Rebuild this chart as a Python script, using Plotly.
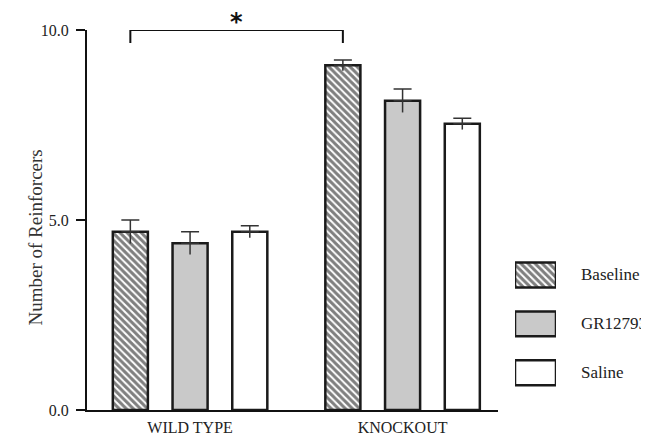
import plotly.graph_objects as go

groups = ["WILD TYPE", "KNOCKOUT"]
series = ["Baseline", "GR127935", "Saline"]
means = {
    "Baseline": [4.69, 9.07],
    "GR127935": [4.39, 8.14],
    "Saline": [4.69, 7.53],
}
errors = {
    "Baseline": [0.31, 0.14],
    "GR127935": [0.30, 0.31],
    "Saline": [0.16, 0.15],
}
y_ticks = [0, 5, 10]

# the page body adds an 8px offset; lay out in window pixels and convert
OFF = 8
W, H = 649 - OFF, 438 - OFF


def px(x):
    return (x - OFF) / W


def py(y):
    return (H - (y - OFF)) / H


SERIF = "Liberation Serif, Times New Roman, serif"
EDGE = "#1a1a1a"
styles = {
    "Baseline": dict(color="white", pattern=dict(shape="\\", fgcolor="#000000", bgcolor="white", size=5, solidity=0.6)),
    "GR127935": dict(color="#c9c9c9"),
    "Saline": dict(color="white"),
}
spacing = 0.281
bar_w = 0.165
group_pos = list(range(len(groups)))

fig = go.Figure()
for i, s in enumerate(series):
    xs = [g + (i - 1) * spacing for g in group_pos]
    fig.add_trace(go.Bar(
        x=xs, y=means[s], width=bar_w, name=s, showlegend=False,
        marker=dict(line=dict(color=EDGE, width=2.5), **styles[s]),
        error_y=dict(type="data", array=errors[s], arrayminus=[0] * len(errors[s]),
                     symmetric=False, color="#333333", thickness=1.5, width=9),
        xaxis="x", yaxis="y",
    ))
# downward stems of the error bars (no cap)
for i, s in enumerate(series):
    xs = [g + (i - 1) * spacing for g in group_pos]
    fig.add_trace(go.Bar(
        x=xs, y=means[s], width=bar_w, showlegend=False, hoverinfo="skip",
        marker=dict(color="rgba(0,0,0,0)", line=dict(width=0)),
        error_y=dict(type="data", array=[0] * len(errors[s]), arrayminus=errors[s],
                     symmetric=False, color="#333333", thickness=1.5, width=0),
        xaxis="x", yaxis="y",
    ))

# significance bracket between baseline bars
bx = [g - spacing for g in group_pos]
top = y_ticks[-1]
fig.add_trace(go.Scatter(
    x=[bx[0], bx[0], bx[1], bx[1]], y=[top - 0.34, top, top, top - 0.34],
    mode="lines", line=dict(color="#111111", width=2), showlegend=False,
    cliponaxis=False, hoverinfo="skip", xaxis="x", yaxis="y",
))
fig.add_annotation(x=(bx[0] + bx[1]) / 2, y=top, xref="x", yref="y", text="<b>*</b>",
                   showarrow=False, yanchor="middle", yshift=8, height=22,
                   font=dict(family="DejaVu Sans, Arial, sans-serif", size=24, color="#111111"))

# legend swatches as a small subplot
for s in series:
    fig.add_trace(go.Bar(
        y=[s], x=[1], orientation="h", width=0.51, showlegend=False, cliponaxis=False,
        marker=dict(line=dict(color=EDGE, width=2.5), **styles[s]),
        xaxis="x2", yaxis="y2", hoverinfo="skip",
    ))
for k, s in enumerate(series):
    fig.add_annotation(x=px(579), y=k, xref="paper", yref="y2", text=s, showarrow=False,
                       xanchor="left", yanchor="middle",
                       font=dict(family=SERIF, size=17, color="#222222"))

# y-axis title
fig.add_annotation(x=px(22), y=py(238), xref="paper", yref="paper",
                   text="Number of Reinforcers", textangle=-90, showarrow=False,
                   font=dict(family=SERIF, size=19, color="#333333"))

fig.update_layout(
    width=W, height=H, margin=dict(l=0, r=0, t=0, b=0, autoexpand=False),
    paper_bgcolor="white", plot_bgcolor="white", barmode="overlay",
    font=dict(family=SERIF, color="#222222"),
    xaxis=dict(domain=[px(87), px(498)], range=[-0.485, 1.449], showgrid=False, zeroline=False,
               showline=True, linecolor="#111111", linewidth=2, ticks="", automargin=False,
               tickvals=group_pos, ticktext=groups, tickfont=dict(size=16, family=SERIF),
               ticklabelstandoff=2),
    yaxis=dict(domain=[py(410), py(30)], range=[0, 10], showgrid=False, zeroline=False,
               showline=True, linecolor="#111111", linewidth=2, ticks="outside", automargin=False,
               ticklen=9, tickwidth=1.5, tickcolor="#111111",
               tickvals=y_ticks, tickformat=".1f", tickfont=dict(size=16, family=SERIF),
               ticklabelstandoff=4),
    xaxis2=dict(domain=[px(515), px(556)], range=[0, 1], visible=False, anchor="y2", automargin=False),
    yaxis2=dict(domain=[py(397.25), py(250.5)], range=[2.5, -0.5], visible=False,
                anchor="x2", type="category", categoryarray=series, automargin=False),
)

fig.write_html("out.html")
